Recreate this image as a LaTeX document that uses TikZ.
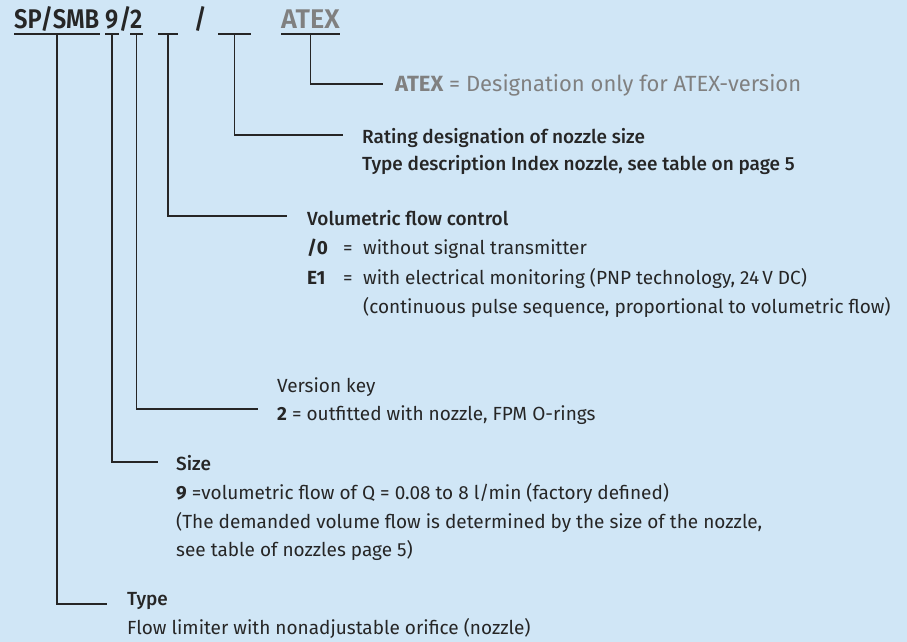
\documentclass[tikz,border=0pt]{standalone}
\usepackage{fontspec}
\setmainfont{Fira Sans}
\newfontfamily\medfont{Fira Sans Medium}
\newfontfamily\codefont{Fira Sans SemiBold}[FakeStretch=0.88]
\newfontfamily\codewide{Fira Sans SemiBold}
\usetikzlibrary{calc}
\definecolor{bgblue}{RGB}{208,230,246}
\definecolor{ink}{RGB}{38,38,38}
\definecolor{atexgray}{RGB}{128,128,128}
\newcommand{\keyeq}[1]{\makebox[36pt][l]{\bfseries #1}\makebox[20pt][l]{=}}

\begin{document}
\begin{tikzpicture}[x=1pt,y=-1pt,
  code/.style={inner sep=0pt, anchor=base west, font=\fontsize{27}{27}\codefont, text=ink},
  head/.style={inner sep=0pt, anchor=base west, font=\fontsize{19}{22}\medfont, text=ink},
  txt/.style={inner sep=0pt, anchor=base west, font=\fontsize{19}{22}\selectfont, text=ink},
  lead/.style={draw=ink, line width=1.5pt},
  uline/.style={draw=ink, line width=2pt}]
  \fill[bgblue] (0,0) rectangle (907,642);
  \useasboundingbox (0,0) rectangle (907,642);

  % order code
  \node[code] (tsp) at (14,29) {SP/SMB};
  \node[code] (t9) at (105,29) {9};
  \node[code] (slashA) at (119,29) {/};
  \node[code] (t2) at (130,29) {2};
  \node[code, minimum width=20pt] (slotA) at (158,29) {};
  \node[code] (slashB) at (194,29) {/};
  \node[code, minimum width=33pt] (slotB) at (218,29) {};
  \node[code, font=\fontsize{27}{27}\codewide, text=atexgray] (tatex) at (281,29) {ATEX};
  \foreach \s in {tsp,t9,t2,slotA,slotB,tatex}
    \draw[uline] ([yshift=-5pt]\s.base west) -- ([yshift=-5pt]\s.base east);

  % explanations
  \node[txt, text=atexgray, font=\fontsize{22}{24}\selectfont] (atex) at (395,91)
    {\textbf{ATEX} = Designation only for ATEX-version};

  \node[head] (rating) at (362,143) {Rating designation of nozzle size};
  \node[head] (ratingb) at ($(rating.base west)+(0,27)$) {Type description Index nozzle, see table on page 5};

  \node[head] (vol) at (307,225) {Volumetric flow control};
  \node[txt] (vol0) at ($(vol.base west)+(0,29.5)$) {\keyeq{/0}without signal transmitter};
  \node[txt] (vole1) at ($(vol0.base west)+(0,29.5)$) {\keyeq{E1}with electrical monitoring (PNP technology, 24\,V DC)};
  \node[txt] (volc) at ($(vole1.base west)+(56,29.5)$) {(continuous pulse sequence, proportional to volumetric flow)};

  \node[txt] (ver) at (277,392) {Version key};
  \node[txt] (ver2) at ($(ver.base west)+(0,28)$) {\textbf{2} = outfitted with nozzle, FPM O-rings};

  \node[head] (size) at (176,470) {Size};
  \node[txt] (size9) at ($(size.base west)+(0,29.5)$) {\textbf{9} =volumetric flow of Q = 0.08 to 8 l/min (factory defined)};
  \node[txt] (sizeb) at ($(size9.base west)+(0,28.5)$) {(The demanded volume flow is determined by the size of the nozzle,};
  \node[txt] (sizec) at ($(sizeb.base west)+(0,28.5)$) {see table of nozzles page 5)};

  \node[head] (type) at (127,605) {Type};
  \node[txt] (typeb) at ($(type.base west)+(0,29)$) {Flow limiter with nonadjustable orifice (nozzle)};

  % leaders
  \draw[lead] ([yshift=-5pt]tatex.base) |- ([xshift=-12pt,yshift=7pt]atex.base west);
  \draw[lead] ([yshift=-5pt]slotB.base) |- ([xshift=-19pt,yshift=8pt]rating.base west);
  \draw[lead] ([yshift=-5pt]slotA.base) |- ([xshift=-20pt,yshift=9pt]vol.base west);
  \draw[lead] ([yshift=-5pt]t2.base) |- ([xshift=-19pt,yshift=11pt]ver2.base west);
  \draw[lead] ([yshift=-5pt]t9.base) |- ([xshift=-18pt,yshift=8pt]size.base west);
  \draw[lead] ([yshift=-5pt]tsp.base) |- ([xshift=-20pt,yshift=1pt]type.base west);
\end{tikzpicture}
\end{document}
